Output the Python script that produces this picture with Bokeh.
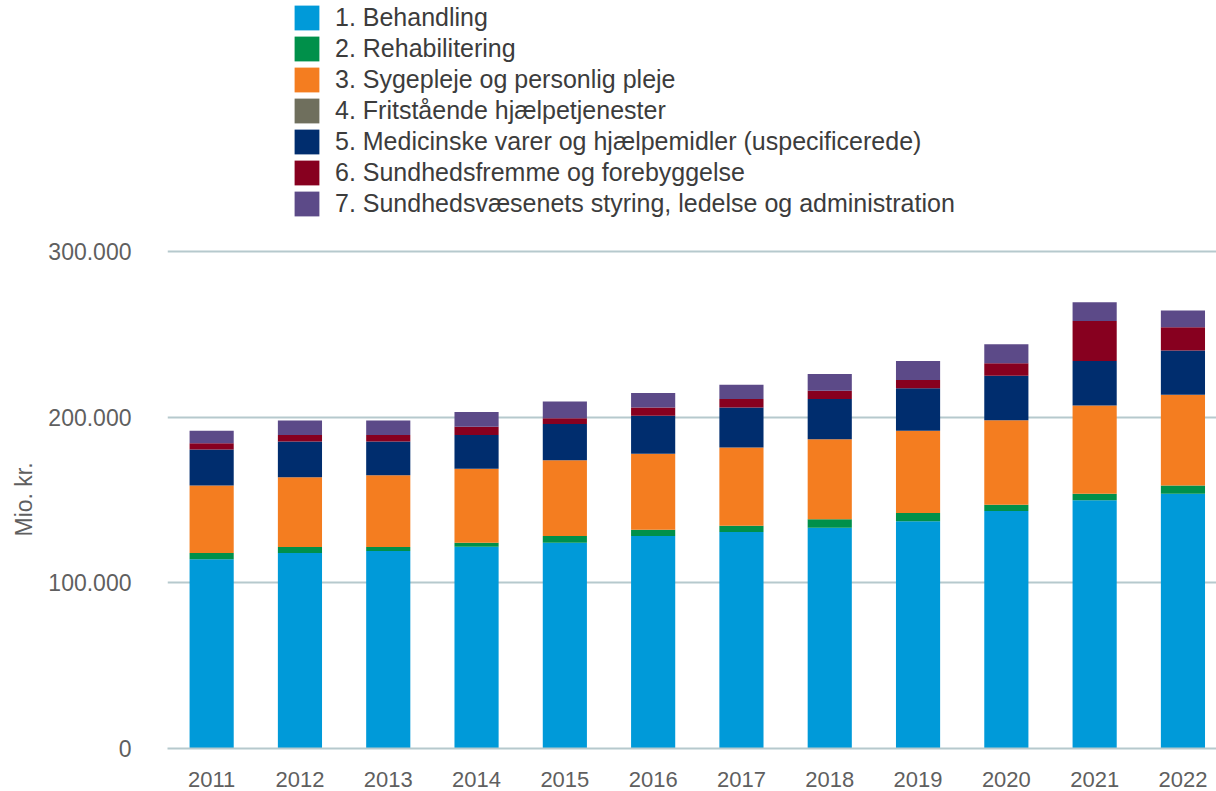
from bokeh.plotting import figure
from bokeh.models import (ColumnDataSource, Range1d, FixedTicker, CustomJSTickFormatter,
                          Legend, LegendItem, Title)
from bokeh.embed import file_html
from bokeh.resources import INLINE

years = [2011, 2012, 2013, 2014, 2015, 2016, 2017, 2018, 2019, 2020, 2021, 2022]

series_names = [
    "1. Behandling",
    "2. Rehabilitering",
    "3. Sygepleje og personlig pleje",
    "4. Fritstående hjælpetjenester",
    "5. Medicinske varer og hjælpemidler (uspecificerede)",
    "6. Sundhedsfremme og forebyggelse",
    "7. Sundhedsvæsenets styring, ledelse og administration",
]

# Mio. kr.
behandling = [114200, 118000, 119200, 121800, 124200, 128300, 130700, 133300, 137100, 143400, 149800, 153700]
rehabilitering = [3800, 3600, 2400, 2400, 4100, 3800, 3800, 5100, 5100, 3800, 3900, 5000]
sygepleje = [40700, 42200, 43400, 44600, 45700, 45800, 47200, 48300, 49600, 51000, 53400, 54900]
hjaelpetjenester = [0, 0, 0, 0, 0, 0, 0, 0, 0, 0, 0, 0]
medicinske = [21800, 21500, 20300, 20400, 21800, 22900, 24200, 24200, 25600, 26800, 26800, 26700]
forebyggelse = [3800, 3900, 3900, 5000, 3600, 5100, 5000, 5100, 5000, 7500, 24200, 14000]
administration = [7500, 8800, 8800, 8900, 10100, 8700, 8700, 10000, 11500, 11500, 11300, 10100]

y_ticks = [0, 100000, 200000, 300000]

colors = ["#009ad9", "#00904a", "#f47d20", "#6f6f5d", "#002d6e", "#87001f", "#5c4a88"]
keys = ["s1", "s2", "s3", "s4", "s5", "s6", "s7"]

source = ColumnDataSource(dict(
    year=years, s1=behandling, s2=rehabilitering, s3=sygepleje, s4=hjaelpetjenester,
    s5=medicinske, s6=forebyggelse, s7=administration,
))

FONT = "Liberation Sans"
GRID = "#b6c9cd"
TXT = "#5f5f5f"

# frame spans the full height down to the x axis; the legend sits in the empty top part
y_top = 300000 * 748 / 497
p = figure(width=1216, height=791, output_backend="svg", toolbar_location=None,
           x_range=Range1d(2010.5, 2022.38), y_range=Range1d(0, y_top),
           min_border_left=167, min_border_right=0, min_border_top=0, min_border_bottom=43)
p.outline_line_color = None
p.background_fill_color = "white"
p.border_fill_color = "white"

renderers = p.vbar_stack(keys, x="year", width=0.5, source=source,
                         fill_color=colors, line_color=None)

items = [LegendItem(label=n, renderers=[r]) for n, r in zip(series_names, renderers)]
legend = Legend(items=items, location=(124, 529), orientation="vertical",
                glyph_width=31, glyph_height=31, label_height=30, spacing=-1,
                label_standoff=13, padding=0, margin=0,
                border_line_color=None, background_fill_alpha=0,
                label_text_font=FONT, label_text_font_size="25px",
                label_text_color="#3c3c3c")
p.add_layout(legend, "center")

# axes
p.xaxis.ticker = FixedTicker(ticks=years)
p.xaxis.major_tick_line_color = None
p.xaxis.minor_tick_line_color = None
p.xaxis.axis_line_color = GRID
p.xaxis.axis_line_width = 2
p.xaxis.major_label_standoff = 17
p.xaxis.major_label_text_font = FONT
p.xaxis.major_label_text_font_size = "22px"
p.xaxis.major_label_text_color = TXT

p.yaxis.ticker = FixedTicker(ticks=y_ticks)
p.yaxis.formatter = CustomJSTickFormatter(
    code="return Math.round(tick).toString().replace(/\\B(?=(\\d{3})+(?!\\d))/g, '.');")
p.yaxis.major_tick_line_color = None
p.yaxis.minor_tick_line_color = None
p.yaxis.axis_line_color = None
p.yaxis.major_label_standoff = 30
p.yaxis.major_label_text_font = FONT
p.yaxis.major_label_text_font_size = "23px"
p.yaxis.major_label_text_color = TXT

# y-axis title, centred on the 0–300.000 part of the axis
ytitle = Title(text="Mio. kr.", align="left", offset=212, standoff=17,
               text_font=FONT, text_font_size="23px", text_font_style="normal",
               text_color=TXT)
p.add_layout(ytitle, "left")

p.xgrid.grid_line_color = None
p.ygrid.grid_line_color = GRID
p.ygrid.grid_line_width = 2

open("out.html", "w").write(file_html(p, INLINE))
